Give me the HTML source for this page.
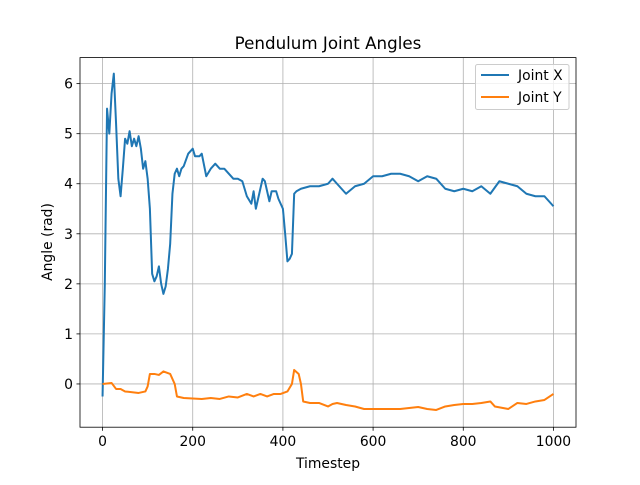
<!DOCTYPE html>
<html><head><meta charset="utf-8"><style>
body{margin:0;background:#fff}
svg text{font-family:"DejaVu Sans","Liberation Sans",sans-serif;fill:#000}
</style></head><body>
<svg id="chart" width="640" height="480" xmlns="http://www.w3.org/2000/svg"></svg>
<script>
const xTimesteps=[0,5,10,15,20,25,30,35,40,45,50,55,60,65,70,75,80,85,90,95,100,105,110,115,120,125,130,135,140,145,150,155,160,165,170,175,180,190,200,205,215,220,230,240,250,260,270,280,290,300,310,320,330,335,340,350,355,360,365,370,375,385,390,400,405,410,415,420,425,430,440,460,480,500,510,520,540,560,580,600,620,640,660,680,700,720,740,760,780,800,820,840,860,880,900,920,940,960,980,990,1000];
const jointX=[-0.25,2.0,5.5,5.0,5.8,6.2,5.2,4.1,3.75,4.3,4.9,4.8,5.05,4.75,4.9,4.75,4.95,4.7,4.3,4.45,4.1,3.5,2.2,2.05,2.15,2.35,2.0,1.8,1.95,2.3,2.8,3.8,4.2,4.3,4.15,4.3,4.35,4.6,4.7,4.55,4.55,4.6,4.15,4.3,4.4,4.3,4.3,4.2,4.1,4.1,4.05,3.75,3.6,3.85,3.5,3.9,4.1,4.05,3.85,3.65,3.85,3.85,3.7,3.5,3.0,2.45,2.5,2.6,3.8,3.85,3.9,3.95,3.95,4.0,4.1,4.0,3.8,3.95,4.0,4.15,4.15,4.2,4.2,4.15,4.05,4.15,4.1,3.9,3.85,3.9,3.85,3.95,3.8,4.05,4.0,3.95,3.8,3.75,3.75,3.65,3.55];
const yTimesteps=[0,20,30,40,50,80,95,100,105,115,125,135,150,160,165,180,220,240,260,280,300,320,335,350,365,380,395,410,420,425,435,440,445,460,480,500,510,520,540,560,580,600,640,660,680,700,720,740,760,780,800,820,840,860,870,900,920,940,960,980,1000];
const jointY=[0,0.02,-0.1,-0.1,-0.15,-0.18,-0.15,-0.05,0.2,0.2,0.18,0.25,0.2,0.0,-0.25,-0.28,-0.3,-0.28,-0.3,-0.25,-0.27,-0.2,-0.25,-0.2,-0.25,-0.2,-0.2,-0.15,0.0,0.28,0.2,0.0,-0.35,-0.38,-0.38,-0.45,-0.4,-0.38,-0.42,-0.45,-0.5,-0.5,-0.5,-0.5,-0.48,-0.46,-0.5,-0.52,-0.45,-0.42,-0.4,-0.4,-0.38,-0.35,-0.45,-0.5,-0.38,-0.4,-0.35,-0.32,-0.2];
const xTicks=[0,200,400,600,800,1000];
const yTicks=[0,1,2,3,4,5,6];
const L=80,R=576,T=57.6,B=427.2,xmin=-50,xmax=1050,ymin=-0.864,ymax=6.52;
const sx=v=>L+(v-xmin)/(xmax-xmin)*(R-L);
const sy=v=>B-(v-ymin)/(ymax-ymin)*(B-T);
const svg=document.getElementById('chart');
const NS='http://www.w3.org/2000/svg';
function mk(tag,attrs,parent){const e=document.createElementNS(NS,tag);for(const k in attrs)e.setAttribute(k,attrs[k]);(parent||svg).appendChild(e);return e;}
xTicks.forEach(t=>{const x=sx(t);
 const g=mk('line',{x1:x,x2:x,y1:T,y2:B,stroke:'#b0b0b0','stroke-width':0.8});
 
 
 mk('line',{x1:x,x2:x,y1:B,y2:B+3.5,stroke:'#000','stroke-width':0.8});
 const tx=mk('text',{x:x,y:B+19,'text-anchor':'middle','font-size':13.9});tx.textContent=t;
 
 
});
yTicks.forEach(t=>{const y=sy(t);
 const g=mk('line',{x1:L,x2:R,y1:y,y2:y,stroke:'#b0b0b0','stroke-width':0.8});
 
 
 mk('line',{x1:L-3.5,x2:L,y1:y,y2:y,stroke:'#000','stroke-width':0.8});
 const tx=mk('text',{x:L-7,y:y+5,'text-anchor':'end','font-size':13.9});tx.textContent=t;
 
 
});
function line(xs,ys,color,name){
 const p=mk('path',{d:xs.map((v,i)=>(i?'L':'M')+sx(v).toFixed(2)+','+sy(ys[i]).toFixed(2)).join(''),fill:'none',stroke:color,'stroke-width':2,'stroke-linejoin':'round'});
 
 
}
line(xTimesteps,jointX,'#1f77b4','joint-x-line');
line(yTimesteps,jointY,'#ff7f0e','joint-y-line');
const fr=mk('rect',{x:L,y:T,width:R-L,height:B-T,fill:'none',stroke:'#000','stroke-width':0.8});


</script>
<svg style="position:absolute;left:0;top:0" width="640" height="480">
<text x="328" y="49" text-anchor="middle" font-size="16.7" font-family="DejaVu Sans, Liberation Sans, sans-serif">Pendulum Joint Angles</text>
<text x="328" y="468" text-anchor="middle" font-size="13.9" font-family="DejaVu Sans, Liberation Sans, sans-serif">Timestep</text>
<text transform="translate(52,242) rotate(-90)" text-anchor="middle" font-size="13.9" font-family="DejaVu Sans, Liberation Sans, sans-serif">Angle (rad)</text>
<g>
<rect x="475.5" y="64.5" width="93.5" height="45" fill="#fff" fill-opacity="0.8" stroke="#ccc" rx="2"/>
<line x1="481" x2="509" y1="75" y2="75" stroke="#1f77b4" stroke-width="2"/>
<text x="518" y="80" font-size="13.9" font-family="DejaVu Sans, Liberation Sans, sans-serif">Joint X</text>
<line x1="481" x2="509" y1="97" y2="97" stroke="#ff7f0e" stroke-width="2"/>
<text x="518" y="102" font-size="13.9" font-family="DejaVu Sans, Liberation Sans, sans-serif">Joint Y</text>
</g>
</svg>
</body></html>
